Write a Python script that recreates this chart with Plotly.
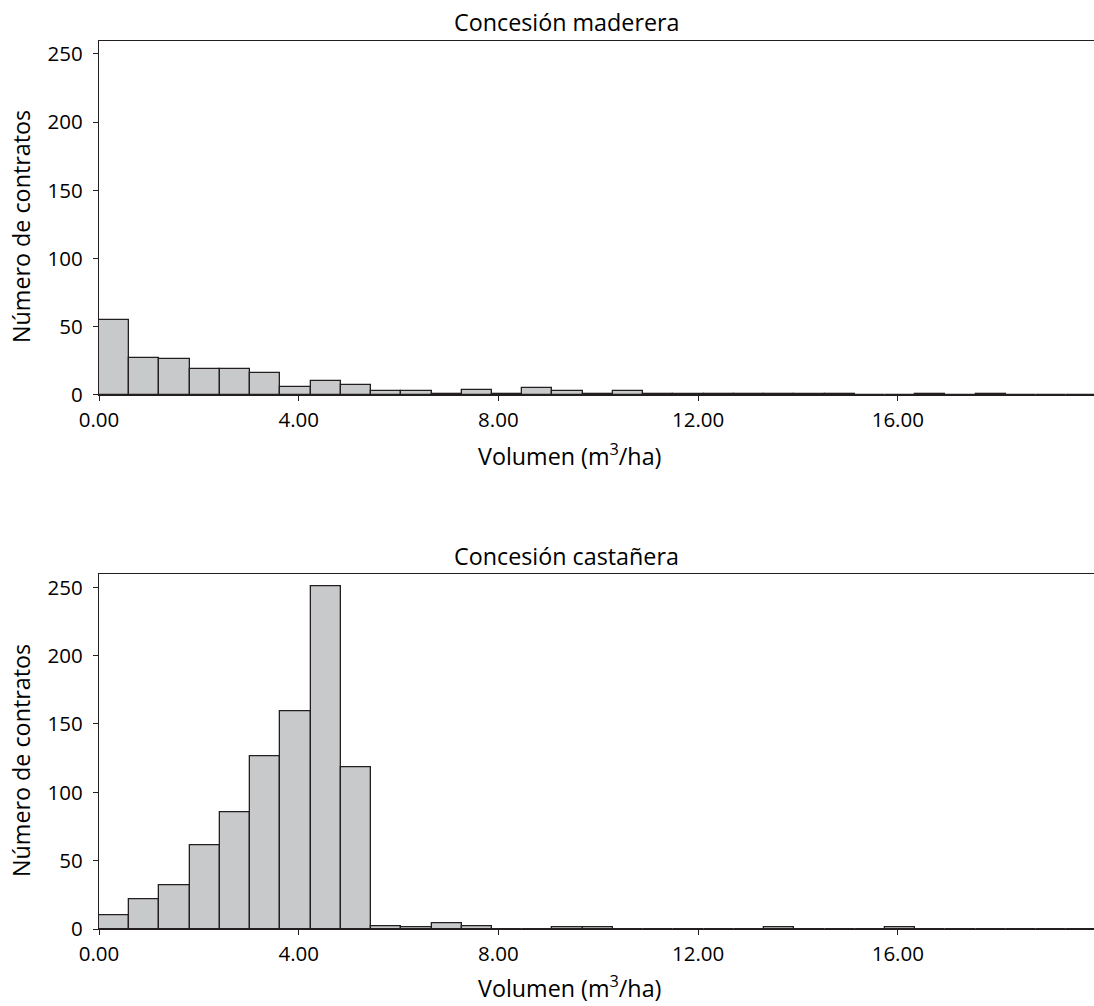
import plotly.graph_objects as go

# ---- data ----
BIN_WIDTH = 0.6055          # m3/ha per histogram bin, bins start at 0
maderera_counts = [55, 27, 26, 19, 19, 16, 6, 10, 7, 3, 3, 1, 4, 1, 5, 3, 1, 3, 1, 1,
                   1, 1, 1, 1, 1, 0, 0, 1, 0, 1, 0, 0, 0]
castanera_counts = [10, 22, 32, 61, 85, 126, 159, 251, 118, 2, 1, 4, 2, 0, 0, 1, 1, 0, 0, 0,
                    0, 0, 1, 0, 0, 0, 1, 0, 0, 0, 0, 0, 0]
titles = ["Concesión maderera", "Concesión castañera"]
x_title = "Volumen (m<sup>3</sup>/ha)"
y_title = "Número de contratos"
x_ticks = [0, 4, 8, 12, 16]
y_ticks = [0, 50, 100, 150, 200, 250]

W, H = 1094, 1006
L, R, T, B = 99, 0, 41, 77
FONT = "Open Sans"
FS = 20.5      # tick labels
FT = 23.3      # titles
INK = "#231f20"
FILL = "#c8c9cb"

fig = go.Figure()
domains = [[0.6014, 1.0], [0.0, 0.3994]]
series = [maderera_counts, castanera_counts]
for k, counts in enumerate(series):
    centers = [(i + 0.5) * BIN_WIDTH for i in range(len(counts))]
    xa = "x" if k == 0 else "x2"
    ya = "y" if k == 0 else "y2"
    fig.add_trace(go.Bar(x=centers, y=counts, width=BIN_WIDTH, xaxis=xa, yaxis=ya,
                         marker=dict(color=FILL, line=dict(color=INK, width=1.3)),
                         showlegend=False, hoverinfo="skip"))

axis_common_x = dict(range=[0, 19.93], tickvals=x_ticks, tickformat=".2f",
                     showline=True, linecolor=INK, linewidth=1.3, mirror=True,
                     ticks="outside", ticklen=5, tickwidth=1.2, tickcolor=INK,
                     showgrid=False, zeroline=False, ticklabelstandoff=1,
                     tickfont=dict(family=FONT, size=FS, color="#000"))
axis_common_y = dict(range=[0, 259.5], tickvals=y_ticks,
                     showline=True, linecolor=INK, linewidth=1.3, mirror=False,
                     ticks="outside", ticklen=5, tickwidth=1.2, tickcolor=INK,
                     showgrid=False, zeroline=False, ticklabelstandoff=6,
                     tickfont=dict(family=FONT, size=FS, color="#000"))

fig.update_layout(
    width=W, height=H, margin=dict(l=L, r=R, t=T, b=B),
    paper_bgcolor="white", plot_bgcolor="white", bargap=0,
    xaxis=dict(domain=[0, 1], anchor="y", **axis_common_x),
    yaxis=dict(domain=domains[0], anchor="x", **axis_common_y),
    xaxis2=dict(domain=[0, 1], anchor="y2", **axis_common_x),
    yaxis2=dict(domain=domains[1], anchor="x2", **axis_common_y),
)

plot_h = H - T - B
def py(pix):  # page pixel y -> paper
    return (H - B - pix) / plot_h
def px(pix):
    return (pix - L) / (W - L - R)

ann = []
title_y = [22, 556]
xt_y = [455, 987]
yt_y = [227, 761]
for k in range(2):
    ann.append(dict(text=titles[k], x=px(566), y=py(title_y[k]), xref="paper", yref="paper",
                    showarrow=False, xanchor="center", yanchor="middle",
                    font=dict(family=FONT, size=FT, color="#000")))
    ann.append(dict(text=x_title, x=px(569), y=py(xt_y[k]), xref="paper", yref="paper",
                    showarrow=False, xanchor="center", yanchor="middle",
                    font=dict(family=FONT, size=FT, color="#000")))
    ann.append(dict(text=y_title, x=px(21), y=py(yt_y[k]), xref="paper", yref="paper",
                    showarrow=False, xanchor="center", yanchor="middle", textangle=-90,
                    font=dict(family=FONT, size=FT, color="#000")))
fig.update_layout(annotations=ann)

fig.write_html("out.html", config={"displayModeBar": False},
               post_script="document.body.style.margin='0';")
